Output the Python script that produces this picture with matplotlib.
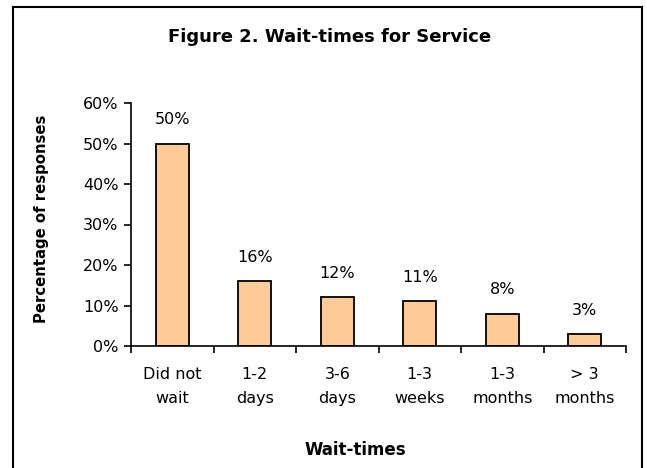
import matplotlib.pyplot as plt
from matplotlib.lines import Line2D

plt.rcParams['font.family'] = ['DejaVu Sans']

# ── data ──────────────────────────────────────────────
categories = ['Did not\nwait', '1-2\ndays', '3-6\ndays', '1-3\nweeks', '1-3\nmonths', '> 3\nmonths']
values = [50, 16, 12, 11, 8, 3]
bar_labels = ['50%', '16%', '12%', '11%', '8%', '3%']
y_ticks = [0, 10, 20, 30, 40, 50, 60]

W, H = 647, 468

# ── figure ────────────────────────────────────────────
fig = plt.figure(figsize=(W / 100, H / 100), dpi=100)
ax = fig.add_axes([131 / W, 1 - 346 / H, (626 - 131) / W, (346 - 103) / H])

x = list(range(len(categories)))
ax.bar(x, values, width=0.4, color='#FFCC99', edgecolor='black', linewidth=1.3)

for xi, v, lab in zip(x, values, bar_labels):
    ax.annotate(lab, (xi, v), xytext=(0, 17), textcoords='offset points',
                ha='center', va='center', fontsize=11.5)

ax.set_xlim(-0.5, len(categories) - 0.5)
ax.set_ylim(0, 60)
ax.set_yticks(y_ticks)
ax.set_yticklabels([f'{t}%' for t in y_ticks], fontsize=11.5)

ax.set_xticks(x)
ax.set_xticklabels(categories, fontsize=11.5, linespacing=1.75)
ax.tick_params(axis='x', which='major', length=0, pad=15)
ax.set_xticks([i - 0.5 for i in range(len(categories) + 1)], minor=True)
ax.tick_params(axis='x', which='minor', length=5, width=1.2)
ax.tick_params(axis='y', length=5, width=1.2, pad=4)

for s in ['top', 'right']:
    ax.spines[s].set_visible(False)
for s in ['left', 'bottom']:
    ax.spines[s].set_linewidth(1.2)

fig.text(355 / W, 1 - 450 / H, 'Wait-times', ha='center', va='center',
         fontsize=12, fontweight='bold')
fig.text(42 / W, 1 - 219 / H, 'Percentage of responses', ha='center', va='center',
         rotation=90, fontsize=10.7, fontweight='bold')
fig.text(330 / W, 1 - 37 / H, 'Figure 2. Wait-times for Service', ha='center', va='center',
         fontsize=13, fontweight='bold')

# outer frame (bottom edge cut off in the original)
fx0, fx1, fy1 = 13 / W, 642 / W, 1 - 7 / H
for xs, ys in [([fx0, fx0], [0, fy1]), ([fx0, fx1], [fy1, fy1]), ([fx1, fx1], [fy1, 0])]:
    fig.add_artist(Line2D(xs, ys, color='black', linewidth=1.5, transform=fig.transFigure))

fig.savefig('out.png', dpi=100)
